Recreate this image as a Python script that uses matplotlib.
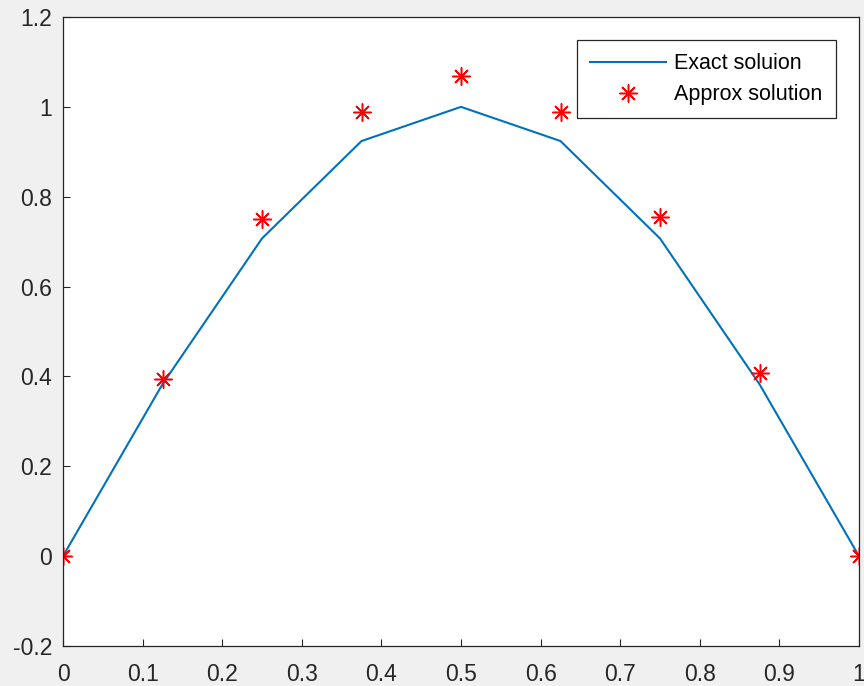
import numpy as np
import matplotlib
matplotlib.use("Agg")
import matplotlib.pyplot as plt

x = [0, 0.125, 0.25, 0.375, 0.5, 0.625, 0.75, 0.875, 1.0]
exact = [0, 0.3827, 0.7071, 0.9239, 1.0, 0.9239, 0.7071, 0.3827, 0]
approx = [0, 0.395, 0.751, 0.988, 1.068, 0.988, 0.755, 0.408, 0]
xticks = [0, 0.1, 0.2, 0.3, 0.4, 0.5, 0.6, 0.7, 0.8, 0.9, 1]
yticks = [-0.2, 0, 0.2, 0.4, 0.6, 0.8, 1, 1.2]

plt.rcParams['font.family'] = ['Liberation Sans', 'DejaVu Sans']
fig = plt.figure(figsize=(8.64, 6.86), dpi=100, facecolor='#f0f0f0')
ax = fig.add_axes([63/864, 40/686, 796/864, 629/686])
ax.set_facecolor('white')

ax.plot(x, exact, color='#0072BD', lw=1.5, label='Exact soluion')
ax.plot(x, approx, linestyle='none', marker=(8, 2, 0), markersize=13,
        markeredgewidth=1.1, color='red', markeredgecolor='red', label='Approx solution')

ax.set_xlim(0, 1)
ax.set_ylim(-0.2, 1.2)
ax.set_xticks(xticks)
ax.set_xticklabels([('%g' % t) for t in xticks])
ax.set_yticks(yticks)
ax.set_yticklabels([('%g' % t) for t in yticks])
ax.tick_params(direction='in', length=5, width=0.8, colors='#262626', labelsize=16.5,
               top=False, right=False)
ax.tick_params(axis='x', pad=12)
ax.tick_params(axis='y', pad=8)
for s in ax.spines.values():
    s.set_color('#262626')
    s.set_linewidth(0.9)

leg = ax.legend(loc='upper right', bbox_to_anchor=(0.971, 0.9634), fontsize=15.5,
                frameon=True, fancybox=False, edgecolor='#262626', framealpha=1,
                handlelength=3.5, borderpad=0.62, labelspacing=0.45, handletextpad=0.4,
                borderaxespad=0)
leg.get_frame().set_linewidth(0.9)

fig.savefig('out.png', dpi=100, facecolor=fig.get_facecolor())
